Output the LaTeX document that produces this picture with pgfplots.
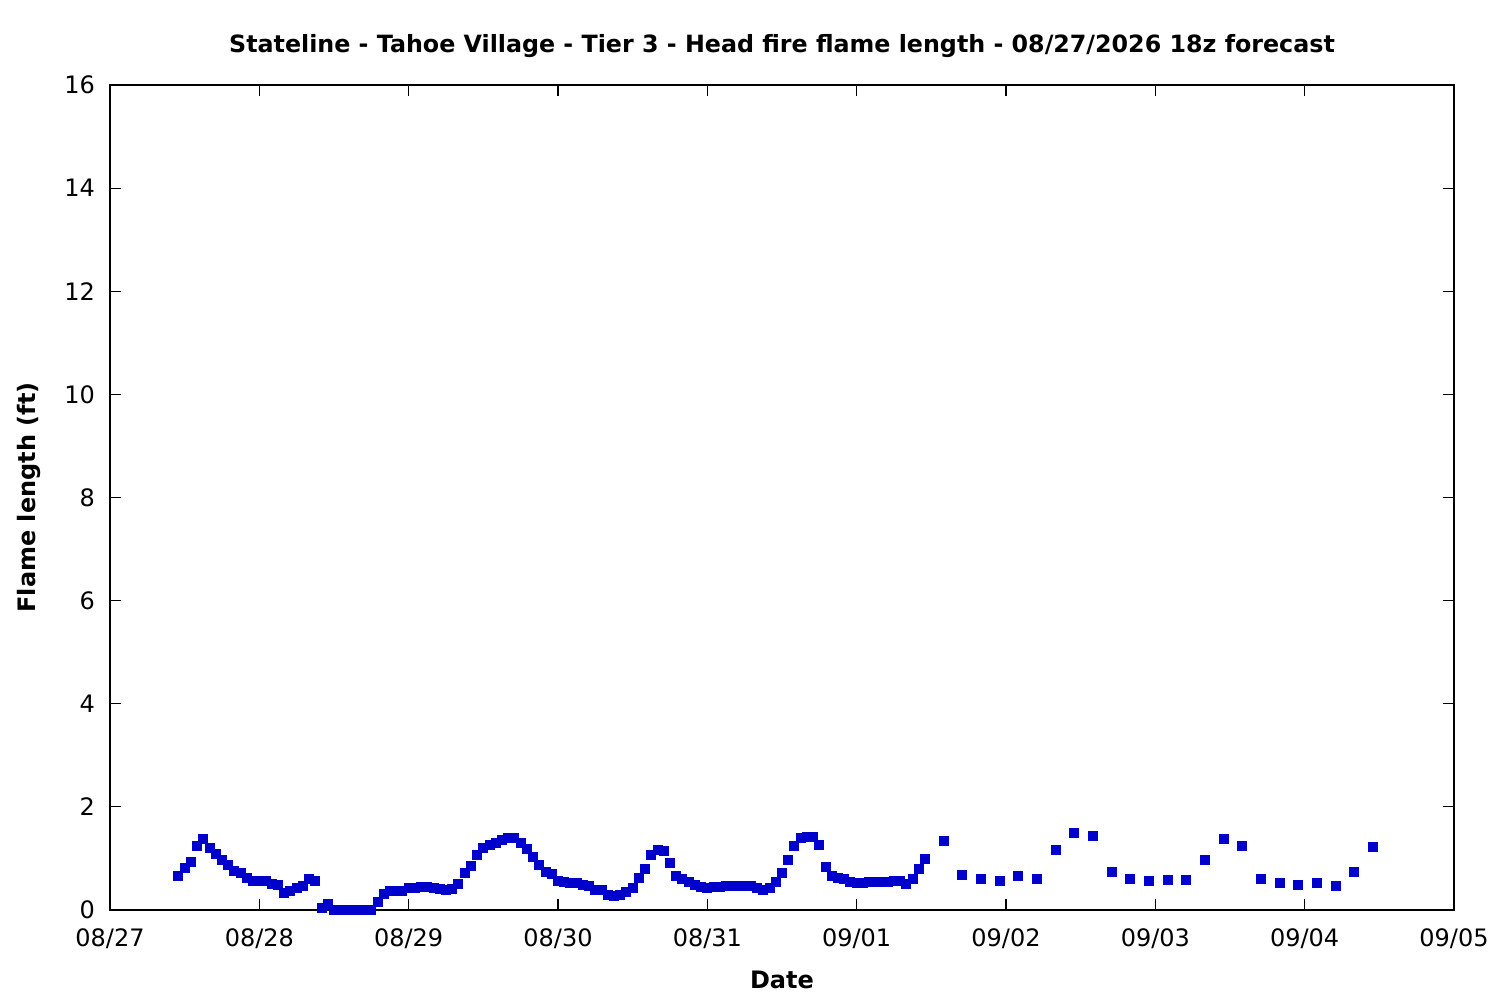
\documentclass[border=0pt]{standalone}
\usepackage{fontspec}
\setmainfont{DejaVu Sans}
\usepackage{pgfplots}
\pgfplotsset{compat=1.18}
\definecolor{ptblue}{RGB}{0,0,205}
\newcommand{\fs}{\fontsize{12pt}{14pt}\selectfont}
\newcommand{\fst}{\fontsize{11.88pt}{14pt}\selectfont}
\begin{document}
\begin{tikzpicture}
\useasboundingbox (-55pt,-45pt) rectangle (695pt,455pt);
\begin{axis}[
  scale only axis,
  width=672pt, height=412.5pt,
  xmin=0, xmax=216, ymin=0, ymax=16,
  xtick={0,24,...,216},
  xticklabels={08/27,08/28,08/29,08/30,08/31,09/01,09/02,09/03,09/04,09/05},
  ytick={0,2,...,16},
  tick align=inside,
  major tick length=5.5pt,
  axis line style={line width=0.6pt},
  every tick/.style={black, line width=0.6pt},
  /pgf/number format/assume math mode=true,
  xticklabel style={font=\fs, inner sep=0pt, anchor=base, yshift=-18.3pt},
  yticklabel style={font=\fs, inner sep=0pt, anchor=east, xshift=-7.3pt},
  title={Stateline - Tahoe Village - Tier 3 - Head fire flame length - 08/27/2026 18z forecast},
  title style={font=\fst\bfseries, at={(0.5,1.0327)}, anchor=center, yshift=0pt, inner sep=0pt},
  xlabel={Date},
  xlabel style={font=\fs\bfseries, at={(0.5,-0.0848)}, anchor=center, inner sep=0pt},
  ylabel={Flame length (ft)},
  ylabel style={font=\fs\bfseries, at={(-0.0605,0.5)}, anchor=center, rotate=0, inner sep=0pt},
  clip=false,
]
\addplot[only marks, mark=square*, mark size=2.25pt, ptblue, mark options={draw=ptblue, fill=ptblue, line width=0pt}] table {
x y
11 0.65
12 0.81
13 0.94
14 1.25
15 1.37
16 1.20
17 1.08
18 0.96
19 0.87
20 0.75
21 0.71
22 0.63
23 0.56
24 0.56
25 0.56
26 0.50
27 0.48
28 0.32
29 0.36
30 0.42
31 0.46
32 0.60
33 0.56
34 0.03
35 0.11
36 0
37 0
38 0
39 0
40 0
41 0
42 0
43 0.15
44 0.31
45 0.36
46 0.37
47 0.37
48 0.42
49 0.42
50 0.44
51 0.44
52 0.42
53 0.40
54 0.38
55 0.40
56 0.50
57 0.71
58 0.85
59 1.06
60 1.20
61 1.27
62 1.29
63 1.35
64 1.39
65 1.39
66 1.29
67 1.18
68 1.02
69 0.87
70 0.73
71 0.69
72 0.56
73 0.54
74 0.52
75 0.52
76 0.48
77 0.46
78 0.38
79 0.38
80 0.30
81 0.28
82 0.30
83 0.34
84 0.42
85 0.63
86 0.79
87 1.06
88 1.16
89 1.14
90 0.91
91 0.65
92 0.60
93 0.54
94 0.48
95 0.44
96 0.42
97 0.44
98 0.44
99 0.46
100 0.46
101 0.46
102 0.46
103 0.46
104 0.42
105 0.38
106 0.42
107 0.54
108 0.71
109 0.96
110 1.25
111 1.39
112 1.41
113 1.41
114 1.27
115 0.83
116 0.65
117 0.63
118 0.60
119 0.54
120 0.52
121 0.52
122 0.54
123 0.54
124 0.54
125 0.54
126 0.56
127 0.56
128 0.50
129 0.61
130 0.79
131 0.98
134 1.33
137 0.67
140 0.60
143 0.56
146 0.65
149 0.60
152 1.16
155 1.49
158 1.43
161 0.73
164 0.61
167 0.56
170 0.58
173 0.58
176 0.96
179 1.37
182 1.25
185 0.61
188 0.52
191 0.48
194 0.52
197 0.46
200 0.73
203 1.23
};
\end{axis}
\end{tikzpicture}
\end{document}
